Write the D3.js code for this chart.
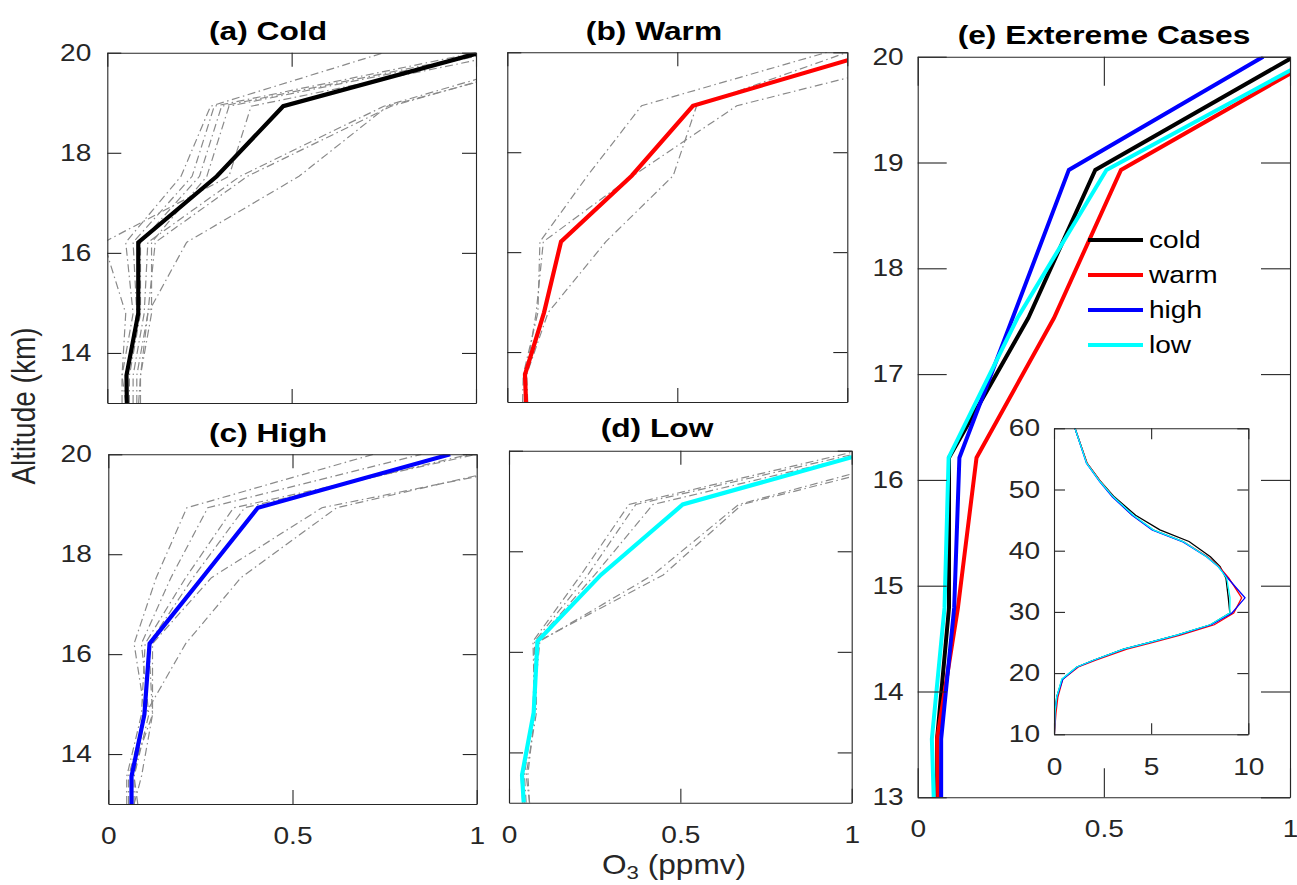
<!DOCTYPE html>
<html>
<head>
<meta charset="utf-8">
<script src="https://cdn.jsdelivr.net/npm/d3@7"></script>
<style>
  html, body { margin: 0; padding: 0; background: #fff; }
  svg { display: block; }
</style>
</head>
<body>
<script>
// ---------------- DATA ----------------
const levels = [13, 13.55, 14.79, 16.21, 17.53, 18.93, 20];

const coldMean = [0.053, 0.052, 0.084, 0.084, 0.297, 0.477, 1.01];
const warmMean = [0.055, 0.052, 0.108, 0.158, 0.366, 0.546, 1.08];
const highMean = [0.063, 0.063, 0.098, 0.112, 0.255, 0.406, 0.928];
const lowMean  = [0.043, 0.038, 0.072, 0.083, 0.268, 0.507, 1.068];

const coldMembers = [
  [0.05, 0.04, 0.05, -0.01, 0.33, 0.39, 1.10],
  [0.04, 0.04, 0.07, 0.05, 0.20, 0.28, 0.75],
  [0.05, 0.05, 0.08, 0.07, 0.23, 0.29, 1.00],
  [0.06, 0.06, 0.09, 0.09, 0.25, 0.31, 1.03],
  [0.09, 0.09, 0.12, 0.12, 0.27, 0.33, 1.05],
  [0.07, 0.07, 0.10, 0.11, 0.36, 0.75, 1.25],
  [0.08, 0.08, 0.11, 0.13, 0.38, 0.77, 1.28],
  [0.085, 0.09, 0.11, 0.215, 0.52, 0.76, 1.30]
];
const warmMembers = [
  [0.045, 0.047, 0.09, 0.096, 0.236, 0.395, 0.94],
  [0.06, 0.057, 0.12, 0.29, 0.488, 0.557, 1.00],
  [0.05, 0.055, 0.085, 0.106, 0.37, 0.675, 1.30]
];
const highMembers = [
  [0.055, 0.055, 0.10, 0.07, 0.13, 0.213, 0.72],
  [0.08, 0.07, 0.11, 0.09, 0.17, 0.27, 0.85],
  [0.05, 0.05, 0.09, 0.10, 0.21, 0.34, 1.00],
  [0.07, 0.09, 0.12, 0.11, 0.23, 0.37, 0.98],
  [0.07, 0.07, 0.10, 0.21, 0.36, 0.62, 1.25],
  [0.06, 0.06, 0.12, 0.12, 0.28, 0.58, 1.30]
];
const lowMembers = [
  [0.04, 0.035, 0.075, 0.07, 0.21, 0.35, 1.02],
  [0.05, 0.045, 0.07, 0.075, 0.23, 0.37, 1.05],
  [0.06, 0.05, 0.08, 0.08, 0.25, 0.42, 1.08],
  [0.045, 0.04, 0.07, 0.09, 0.42, 0.67, 1.25],
  [0.06, 0.055, 0.075, 0.085, 0.45, 0.68, 1.30]
];

// inset: full ozone profiles (km, ppmv)
const insetAlt  = [10, 13.4, 16.1, 19.0, 21.0, 22.1, 23.9, 24.9, 26.2, 27.9, 29.8, 32.3, 35.5, 37.4, 39.0, 41.5, 43.4, 45.8, 48.8, 51.3, 54.3, 60];
const insetCold = [0.02,0.05,0.14,0.42,1.18,2.03,3.58,4.78,6.33,8.05,9.05,8.97,8.85,8.55,8.05,6.95,5.45,4.20,3.10,2.40,1.70,1.08];
const insetWarm = [0.02,0.10,0.20,0.45,1.25,2.15,3.75,4.95,6.50,8.25,9.25,9.66,9.00,8.50,7.90,6.65,5.10,4.05,3.05,2.40,1.70,1.08];
const insetHigh = [0.02,0.05,0.15,0.45,1.20,2.05,3.60,4.80,6.35,8.10,9.15,9.83,8.95,8.45,7.85,6.60,5.05,4.02,3.00,2.35,1.67,1.08];
const insetLow  = [0.02,0.05,0.14,0.40,1.17,2.02,3.57,4.77,6.31,8.03,9.05,9.06,8.89,8.46,7.86,6.65,5.11,4.08,3.05,2.37,1.68,1.08];

const legendLabels = ["cold", "warm", "high", "low"];
const xTicks = [0, 0.5, 1];
const yTicksSmall = [14, 16, 18, 20];
const yTicksBig = [13, 14, 15, 16, 17, 18, 19, 20];
const insetXTicks = [0, 5, 10];
const insetYTicks = [10, 20, 30, 40, 50, 60];

// ---------------- STYLE ----------------
const W = 1297, H = 885;
const FONT = "'Liberation Sans', Arial, Helvetica, sans-serif";
const SX = 1.17;
const AX = "#262626";
const COLORS = { cold: "#000000", warm: "#ff0000", high: "#0000ff", low: "#00ffff" };

const svg = d3.select("body").append("svg").attr("width", W).attr("height", H);
svg.append("rect").attr("width", W).attr("height", H).attr("fill", "#fff");

function stretched(parent, x, y, str, size, opts = {}) {
  const t = parent.append("text")
    .attr("transform", `translate(${x},${y}) ${opts.rotate ? "rotate(-90) scale(1," + (opts.sx || SX) + ")" : "scale(" + (opts.sx || SX) + ",1)"}`)
    .attr("font-family", FONT)
    .attr("font-size", size)
    .attr("font-weight", opts.bold ? "bold" : "normal")
    .attr("fill", opts.fill || AX)
    .attr("text-anchor", opts.anchor || "middle");
  if (opts.baseline) t.attr("dominant-baseline", opts.baseline);
  if (str !== null) t.text(str);
  return t;
}

function fmt(d) { return String(d); }

function drawAxes(g, x, y, o) {
  const [x0, x1] = x.range();
  const [y1, y0] = y.range();
  const style = sel => {
    sel.selectAll("path.domain").attr("stroke", AX).attr("stroke-width", 1.1);
    sel.selectAll(".tick line").attr("stroke", AX).attr("stroke-width", 1.1);
    sel.selectAll(".tick text").attr("fill", AX).attr("font-size", 24).attr("font-family", FONT);
  };
  const left = g.append("g").attr("transform", `translate(${x0},0)`)
    .call(d3.axisLeft(y).tickValues(o.yTicks).tickSizeInner(-o.tl).tickSizeOuter(0)
      .tickPadding(o.yPad || 15).tickFormat(o.showY ? fmt : () => ""));
  style(left);
  left.selectAll(".tick text").attr("x", -(o.yPad || 15) / SX).attr("transform", `scale(${SX},1)`);
  const right = g.append("g").attr("transform", `translate(${x1},0)`)
    .call(d3.axisRight(y).tickValues(o.yTicks).tickSizeInner(-o.tl).tickSizeOuter(0).tickFormat(() => ""));
  style(right);
  const top = g.append("g").attr("transform", `translate(0,${y0})`)
    .call(d3.axisTop(x).tickValues(o.xTicks).tickSizeInner(-o.tl).tickSizeOuter(0).tickFormat(() => ""));
  style(top);
  const bottom = g.append("g").attr("transform", `translate(0,${y1})`)
    .call(d3.axisBottom(x).tickValues(o.xTicks).tickSizeInner(-o.tl).tickSizeOuter(0)
      .tickPadding(o.xPad || 23).tickFormat(o.showX ? fmt : () => ""));
  style(bottom);
  bottom.selectAll(".tick text").attr("transform", `scale(${SX},1)`);
}

function drawPanel(p) {
  const x = d3.scaleLinear().domain([0, 1]).range([p.x0, p.x1]);
  const y = d3.scaleLinear().domain([13, 20]).range([p.y1, p.y0]);
  const id = "clip-" + p.id;
  svg.append("clipPath").attr("id", id).append("rect")
    .attr("x", p.x0).attr("y", p.y0).attr("width", p.x1 - p.x0).attr("height", p.y1 - p.y0);
  const g = svg.append("g");
  const plot = g.append("g").attr("clip-path", `url(#${id})`);
  const line = d3.line().x(d => x(d[0])).y(d => y(d[1]));
  (p.members || []).forEach(m => {
    plot.append("path").datum(m.map((v, i) => [v, levels[i]]))
      .attr("d", line).attr("fill", "none").attr("stroke", "#8a8a8a")
      .attr("stroke-width", 1.2).attr("stroke-dasharray", "8,3.5,1.5,3.5");
  });
  p.means.forEach(mn => {
    plot.append("path").datum(mn.values.map((v, i) => [v, levels[i]]))
      .attr("d", line).attr("fill", "none").attr("stroke", mn.color)
      .attr("stroke-width", p.lw || 4.2).attr("stroke-linejoin", "miter");
  });
  drawAxes(g, x, y, { tl: p.tl, yTicks: p.yTicks, xTicks: xTicks, showY: p.showY, showX: p.showX, yPad: p.yPad, xPad: 23 });
  stretched(svg, p.tx, p.ty, p.title, 26, { bold: true, fill: "#000", sx: 1.22 });
  return { x, y, g };
}

drawPanel({ id: "a", x0: 107.3, x1: 476, y0: 52.7, y1: 403, tl: 14, yTicks: yTicksSmall, showY: true, showX: false, yPad: 16,
  members: coldMembers, means: [{ values: coldMean, color: COLORS.cold }], title: "(a) Cold", tx: 268, ty: 40 });
drawPanel({ id: "b", x0: 507.3, x1: 847.3, y0: 52.3, y1: 402, tl: 14, yTicks: yTicksSmall, showY: false, showX: false,
  members: warmMembers, means: [{ values: warmMean, color: COLORS.warm }], title: "(b) Warm", tx: 654, ty: 40 });
drawPanel({ id: "c", x0: 108.3, x1: 476.7, y0: 454.3, y1: 804, tl: 14, yTicks: yTicksSmall, showY: true, showX: true, yPad: 16.5,
  members: highMembers, means: [{ values: highMean, color: COLORS.high }], title: "(c) High", tx: 268, ty: 442 });
drawPanel({ id: "d", x0: 509, x1: 851.7, y0: 450.7, y1: 802.7, tl: 14, yTicks: yTicksSmall, showY: false, showX: true,
  members: lowMembers, means: [{ values: lowMean, color: COLORS.low }], title: "(d) Low", tx: 657, ty: 437 });

const E = drawPanel({ id: "e", x0: 917.7, x1: 1290, y0: 56.7, y1: 797.3, tl: 29, yTicks: yTicksBig, showY: true, showX: true, yPad: 14, lw: 4,
  members: [], means: [
    { values: coldMean, color: COLORS.cold },
    { values: warmMean, color: COLORS.warm },
    { values: highMean, color: COLORS.high },
    { values: lowMean, color: COLORS.low }
  ], title: "(e) Extereme Cases", tx: 1104, ty: 43.5 });

// legend
const legendColors = [COLORS.cold, COLORS.warm, COLORS.high, COLORS.low];
const legendY = d3.scalePoint().domain(legendLabels).range([240, 345]);
legendLabels.forEach((lab, i) => {
  svg.append("line").attr("x1", 1088).attr("x2", 1143)
    .attr("y1", legendY(lab)).attr("y2", legendY(lab))
    .attr("stroke", legendColors[i]).attr("stroke-width", 4);
  stretched(svg, 1149, legendY(lab), lab, 24, { anchor: "start", baseline: "central", fill: "#000" });
});

// inset
const ix = d3.scaleLinear().domain([0, 10]).range([1054, 1248.3]);
const iy = d3.scaleLinear().domain([10, 60]).range([734.3, 428.3]);
const ig = svg.append("g");
ig.append("rect").attr("x", 1054).attr("y", 428.3).attr("width", 1248.3 - 1054).attr("height", 734.3 - 428.3).attr("fill", "#fff");
svg.append("clipPath").attr("id", "clip-inset").append("rect")
  .attr("x", 1054).attr("y", 428.3).attr("width", 1248.3 - 1054).attr("height", 734.3 - 428.3);
const iplot = ig.append("g").attr("clip-path", "url(#clip-inset)");
const iline = d3.line().x(d => ix(d[0])).y(d => iy(d[1]));
[[insetCold, COLORS.cold], [insetWarm, COLORS.warm], [insetHigh, COLORS.high], [insetLow, COLORS.low]].forEach(([vals, c]) => {
  iplot.append("path").datum(vals.map((v, i) => [v, insetAlt[i]]))
    .attr("d", iline).attr("fill", "none").attr("stroke", c).attr("stroke-width", 1.3);
});
(function () {
  const style = sel => {
    sel.selectAll("path.domain").attr("stroke", AX).attr("stroke-width", 1.1);
    sel.selectAll(".tick line").attr("stroke", AX).attr("stroke-width", 1.1);
    sel.selectAll(".tick text").attr("fill", AX).attr("font-size", 24).attr("font-family", FONT);
  };
  const l = ig.append("g").attr("transform", "translate(1054,0)")
    .call(d3.axisLeft(iy).tickValues(insetYTicks).tickSizeInner(-11).tickSizeOuter(0).tickPadding(14).tickFormat(fmt));
  style(l);
  l.selectAll(".tick text").attr("x", -14 / SX).attr("transform", `scale(${SX},1)`);
  const r = ig.append("g").attr("transform", "translate(1248.3,0)")
    .call(d3.axisRight(iy).tickValues(insetYTicks).tickSizeInner(-11).tickSizeOuter(0).tickFormat(() => ""));
  style(r);
  const t = ig.append("g").attr("transform", "translate(0,428.3)")
    .call(d3.axisTop(ix).tickValues(insetXTicks).tickSizeInner(-11).tickSizeOuter(0).tickFormat(() => ""));
  style(t);
  const b = ig.append("g").attr("transform", "translate(0,734.3)")
    .call(d3.axisBottom(ix).tickValues(insetXTicks).tickSizeInner(-11).tickSizeOuter(0).tickPadding(24).tickFormat(fmt));
  style(b);
  b.selectAll(".tick text").attr("transform", `scale(${SX},1)`);
})();

// axis labels
stretched(svg, 23, 406, "Altitude (km)", 28, { rotate: true, baseline: "central" });
const xl = stretched(svg, 674, 874, null, 27, {});
xl.append("tspan").text("O");
xl.append("tspan").attr("font-size", 19).attr("dy", 5).text("3");
xl.append("tspan").attr("dy", -5).text(" (ppmv)");
</script>
</body>
</html>
